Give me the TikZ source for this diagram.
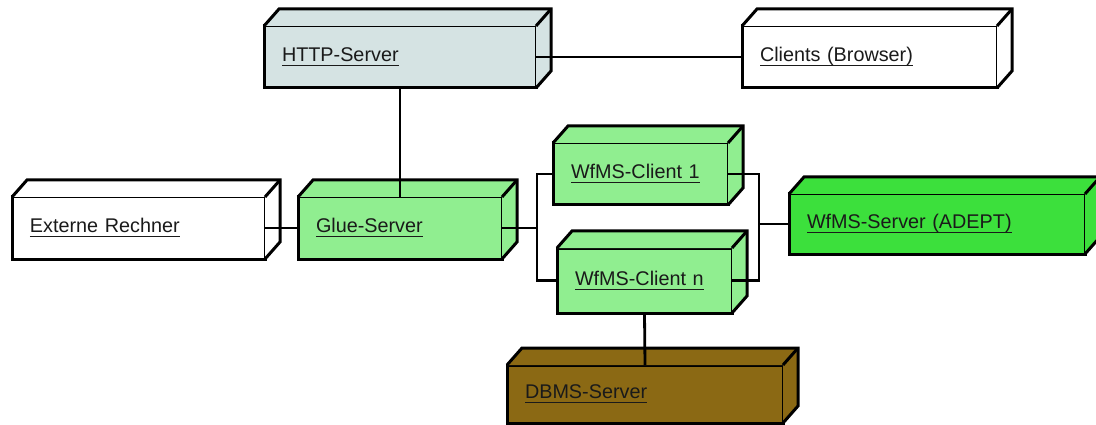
\documentclass[tikz,border=0pt]{standalone}
\usepackage{fontspec}
\setmainfont{Liberation Sans}
\definecolor{httpfill}{HTML}{D5E3E3}
\definecolor{gluefill}{HTML}{90EE90}
\definecolor{srvfill}{HTML}{3CE03C}
\definecolor{dbfill}{HTML}{8B6914}
\definecolor{txt}{HTML}{1A1A1A}
% underlined label text
\newcommand{\ulabel}[1]{{\setbox0\hbox{#1}\rlap{\rule[-4.5pt]{\wd0}{1.4pt}}\box0}}
% 3-D node: front face is the node, top and side faces are added after it
\newcommand{\cubefaces}[2]{%
  \fill[#2] (#1.north west) -- ([shift={(15,-17)}]#1.north west)
     -- ([shift={(15,-17)}]#1.north east) -- (#1.north east) -- cycle;
  \fill[#2] (#1.north east) -- ([shift={(15,-17)}]#1.north east)
     -- ([shift={(15,-17)}]#1.south east) -- (#1.south east) -- cycle;
  \draw[boxline] (#1.north west) -- ([shift={(15,-17)}]#1.north west)
     -- ([shift={(15,-17)}]#1.north east) -- ([shift={(15,-17)}]#1.south east)
     -- (#1.south east);
  \draw[boxline] ([shift={(15,-17)}]#1.north east) -- (#1.north east);
}
\tikzset{
  boxline/.style={line width=3pt, line join=miter},
  nodebox/.style={draw, boxline, anchor=north west, inner ysep=0pt,
    outer sep=0pt, inner xsep=18pt, align=left,
    font=\fontsize{19.8}{22}\selectfont, text=txt},
  link/.style={line width=2.8pt}
}
\newcommand{\cube}[6]{% name, fill, x, y, width, height
  \node[nodebox, fill=#2, minimum height=#6pt, text width={#5pt-36pt}]
    (#1) at (#3,#4) {\ulabel{\cubelabel}};
  \cubefaces{#1}{#2}
}
\begin{document}
\begin{tikzpicture}[x=1pt,y=-1pt]
\useasboundingbox (0,0) rectangle (1096,425);
\clip (0,0) rectangle (1096,425);
\fill[white] (0,0) rectangle (1096,425);

\def\cubelabel{HTTP-Server}\cube{http}{httpfill}{264}{26}{272}{62}
\def\cubelabel{Clients (Browser)}\cube{clients}{white}{742}{26}{255}{62}
\def\cubelabel{Externe Rechner}\cube{ext}{white}{12}{197}{253}{62}
\def\cubelabel{Glue-Server}\cube{glue}{gluefill}{298}{197}{204}{62}
\def\cubelabel{WfMS-Client 1}\cube{cone}{gluefill}{553}{143}{175}{62}
\def\cubelabel{WfMS-Client n}\cube{cn}{gluefill}{557}{248}{175}{65}
\def\cubelabel{WfMS-Server (ADEPT)}\cube{srv}{srvfill}{789}{194}{296}{60}
\def\cubelabel{DBMS-Server}\cube{dbms}{dbfill}{507}{365}{276}{58}

% bracket columns between the client nodes
\coordinate (bl) at (537,0);
\coordinate (br) at (759,0);

\draw[link] (http.east) -- (clients.west);
\draw[link] (http.south) -- (glue.north);
\draw[link] (ext.east) -- (glue.west);
\draw[link] (glue.east) -- (glue.east -| bl);
\draw[link] (cone.west) -| (glue.east -| bl) |- (cn.west);
\draw[link] (cone.east) -| (srv.west -| br) |- (cn.east);
\draw[link] (srv.west -| br) -- (srv.west);
\draw[link] (cn.south) -- (dbms.north);
\end{tikzpicture}
\end{document}
